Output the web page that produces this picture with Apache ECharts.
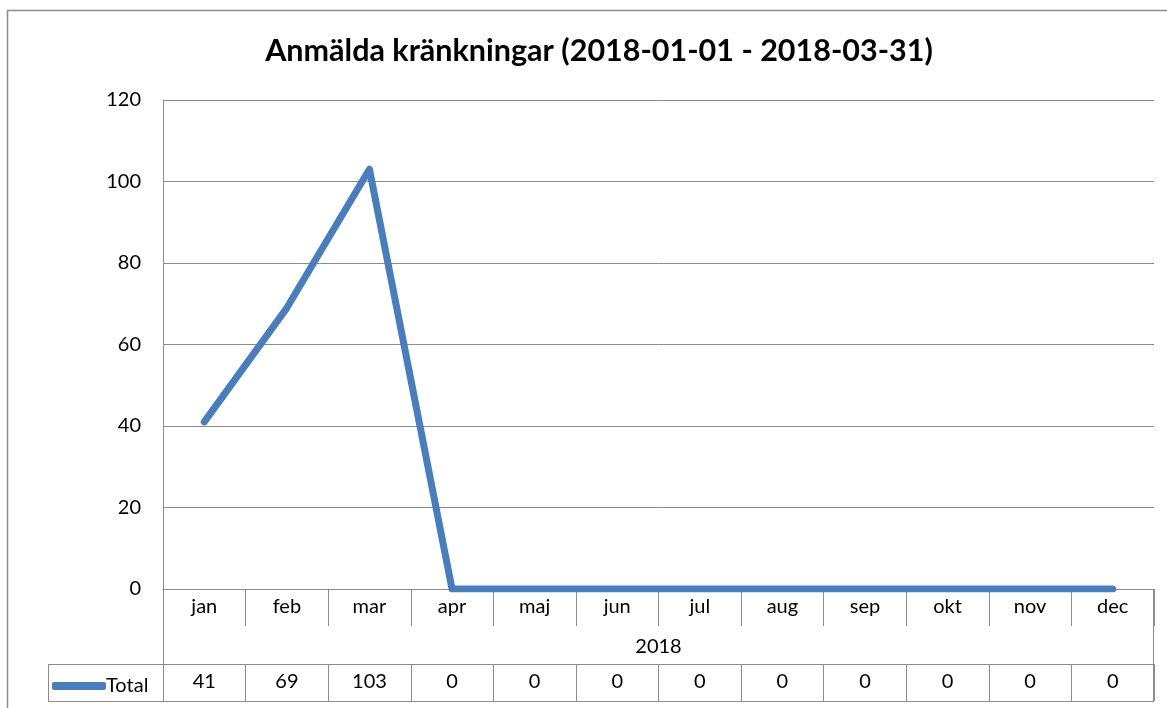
<!DOCTYPE html>
<html>
<head>
<meta charset="utf-8">
<script src="https://cdn.jsdelivr.net/npm/echarts@6/dist/echarts.min.js"></script>
<style>
  html, body { margin: 0; padding: 0; background: #fff; }
  #main { width: 1167px; height: 708px; }
</style>
</head>
<body>
<div id="main"></div>
<script>
// data
var months = ['jan', 'feb', 'mar', 'apr', 'maj', 'jun', 'jul', 'aug', 'sep', 'okt', 'nov', 'dec'];
var totals = [41, 69, 103, 0, 0, 0, 0, 0, 0, 0, 0, 0];
var yearLabel = '2018';
var seriesName = 'Total';
var titleText = 'Anmälda kränkningar (2018-01-01 - 2018-03-31)';

var font = 'Lato, "Open Sans", sans-serif';
var gray = '#8c8c8c';
var blue = '#4a7ebb';

var myChart = echarts.init(document.getElementById('main'));

myChart.setOption({
    animation: false,
    textStyle: { fontFamily: font },
    title: {
        text: titleText,
        left: 594,
        top: 31,
        textAlign: 'center',
        textStyle: { fontFamily: font, fontSize: 30.5, fontWeight: 'bold', color: '#000' }
    },
    legend: {
        data: [seriesName],
        left: 47,
        top: 671,
        icon: 'roundRect',
        itemWidth: 54,
        itemHeight: 8,
        itemGap: 0,
        textStyle: { fontFamily: font, fontSize: 20, color: '#000', padding: [0, 0, 0, -5] }
    },
    grid: { left: 163, right: 13, top: 100, bottom: 119 },
    xAxis: [
        {
            // category row
            type: 'category',
            data: months,
            boundaryGap: true,
            axisLine: { show: true, lineStyle: { color: gray, width: 1 } },
            axisTick: { show: true, length: 37, interval: 0, lineStyle: { color: gray } },
            axisLabel: { fontFamily: font, fontSize: 20, color: '#000', margin: 8, interval: 0 },
            name: yearLabel,
            nameLocation: 'middle',
            nameGap: 48,
            nameTextStyle: { fontFamily: font, fontSize: 20, color: '#000' }
        },
        {
            // data-table row with the values
            type: 'category',
            data: totals.map(String),
            position: 'bottom',
            offset: 75,
            boundaryGap: true,
            axisLine: { show: true, lineStyle: { color: gray, width: 1 } },
            axisTick: { show: true, length: 37, interval: 0, lineStyle: { color: gray } },
            axisLabel: { fontFamily: font, fontSize: 20, color: '#000', margin: 8, interval: 0 }
        }
    ],
    yAxis: {
        type: 'value',
        min: 0,
        max: 120,
        interval: 20,
        axisLine: { show: true, lineStyle: { color: gray } },
        axisTick: { show: false },
        axisLabel: { fontFamily: font, fontSize: 20, color: '#000', margin: 22 },
        splitLine: { show: true, lineStyle: { color: gray, width: 1 } }
    },
    graphic: [
        // outer chart frame
        { type: 'rect', shape: { x: 7.5, y: 10.5, width: 1170, height: 710 },
          style: { fill: null, stroke: gray, lineWidth: 1.5 }, silent: true },
        // y-axis line down through the table
        { type: 'line', shape: { x1: 163.5, y1: 589, x2: 163.5, y2: 701 },
          style: { stroke: gray, lineWidth: 1 }, silent: true },
        // legend cell and table borders
        { type: 'line', shape: { x1: 48, y1: 664.5, x2: 163, y2: 664.5 },
          style: { stroke: gray, lineWidth: 1 }, silent: true },
        { type: 'line', shape: { x1: 48, y1: 701.5, x2: 1154, y2: 701.5 },
          style: { stroke: gray, lineWidth: 1 }, silent: true },
        { type: 'line', shape: { x1: 48.5, y1: 664, x2: 48.5, y2: 702 },
          style: { stroke: gray, lineWidth: 1 }, silent: true },
        { type: 'line', shape: { x1: 1153.5, y1: 589, x2: 1153.5, y2: 702 },
          style: { stroke: gray, lineWidth: 1 }, silent: true }
    ],
    series: [
        {
            name: seriesName,
            type: 'line',
            xAxisIndex: 0,
            data: totals,
            showSymbol: false,
            symbol: 'none',
            lineStyle: { color: blue, width: 7, cap: 'round', join: 'round' },
            itemStyle: { color: blue }
        }
    ]
});
</script>
</body>
</html>
